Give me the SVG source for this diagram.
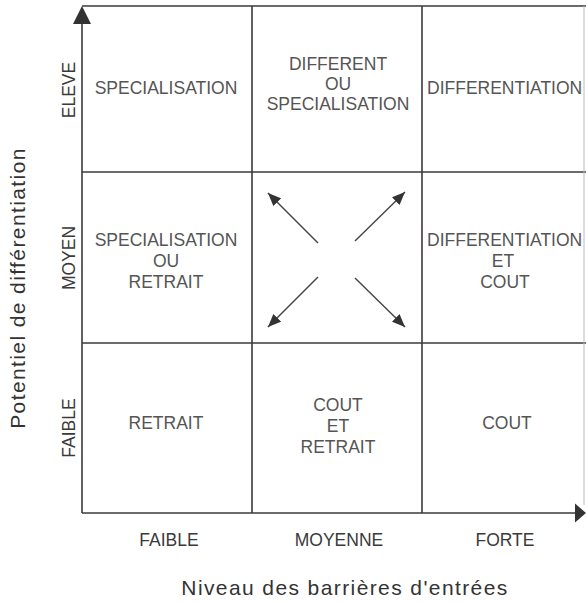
<svg xmlns="http://www.w3.org/2000/svg" width="586" height="603" viewBox="0 0 586 603">
<defs>
<style>
.grid{stroke:#3a3a3a;stroke-width:1.6;fill:none}
.conn{stroke:#444;stroke-width:1.4;fill:none}
.cell{font-family:"Liberation Sans",Arial,sans-serif;font-size:17.5px;fill:#555;text-anchor:middle}
.lab{font-family:"Liberation Sans",Arial,sans-serif;font-size:17.5px;fill:#3a3a3a;text-anchor:middle}
.title{font-family:"Liberation Sans",Arial,sans-serif;font-size:21px;fill:#333;text-anchor:middle;letter-spacing:1.4px}
</style>
<marker id="ah" viewBox="0 0 12 10" refX="12" refY="5" markerWidth="13" markerHeight="11" markerUnits="userSpaceOnUse" orient="auto">
<path d="M0,0 L12,5 L0,10 Z" fill="#333"/>
</marker>
</defs>
<rect width="586" height="603" fill="#fff"/>
<g id="grid">
<line class="grid" x1="82" y1="513" x2="82" y2="20"/>
<polygon points="82,6 73,24 91,24" fill="#333"/>
<line class="grid" x1="82" y1="6" x2="586" y2="6"/>
<line class="grid" x1="82" y1="172" x2="586" y2="172"/>
<line class="grid" x1="82" y1="343" x2="586" y2="343"/>
<line class="grid" x1="82" y1="513" x2="576" y2="513"/>
<polygon points="586,513 575,503.5 575,522.5" fill="#333"/>
<line class="grid" x1="252" y1="6" x2="252" y2="513"/>
<line class="grid" x1="422" y1="6" x2="422" y2="513"/>
<line x1="584" y1="6" x2="584" y2="505" stroke="#bbb" stroke-width="1"/>
</g>
<g id="axis-y">
<text class="title" transform="translate(25,288) rotate(-90)">Potentiel de différentiation</text>
<text class="lab" transform="translate(75,90) rotate(-90)">ELEVE</text>
<text class="lab" transform="translate(75,258) rotate(-90)">MOYEN</text>
<text class="lab" transform="translate(75,428) rotate(-90)">FAIBLE</text>
</g>
<g id="axis-x">
<text class="lab" x="169" y="546">FAIBLE</text>
<text class="lab" x="339" y="546">MOYENNE</text>
<text class="lab" x="505" y="546">FORTE</text>
<text class="title" x="345" y="595">Niveau des barrières d'entrées</text>
</g>
<g id="cell-eleve-faible"><text class="cell" x="166" y="94">SPECIALISATION</text></g>
<g id="cell-eleve-moyenne">
<text class="cell" x="338" y="70">DIFFERENT</text>
<text class="cell" x="338" y="90">OU</text>
<text class="cell" x="338" y="110">SPECIALISATION</text>
</g>
<g id="cell-eleve-forte"><text class="cell" x="427" y="94" style="text-anchor:start">DIFFERENTIATION</text></g>
<g id="cell-moyen-faible">
<text class="cell" x="166" y="246">SPECIALISATION</text>
<text class="cell" x="166" y="267">OU</text>
<text class="cell" x="166" y="288">RETRAIT</text>
</g>
<g id="cell-moyen-moyenne"></g>
<g id="cell-moyen-forte">
<text class="cell" x="427" y="246" style="text-anchor:start">DIFFERENTIATION</text>
<text class="cell" x="503" y="267">ET</text>
<text class="cell" x="505" y="288">COUT</text>
</g>
<g id="cell-faible-faible"><text class="cell" x="166" y="429">RETRAIT</text></g>
<g id="cell-faible-moyenne">
<text class="cell" x="338" y="411">COUT</text>
<text class="cell" x="338" y="432">ET</text>
<text class="cell" x="338" y="453">RETRAIT</text>
</g>
<g id="cell-faible-forte"><text class="cell" x="507" y="429">COUT</text></g>
<g id="connectors">
<line class="conn" x1="318" y1="243" x2="268" y2="193" marker-end="url(#ah)"/>
<line class="conn" x1="355" y1="241" x2="405" y2="192" marker-end="url(#ah)"/>
<line class="conn" x1="318" y1="277" x2="268" y2="327" marker-end="url(#ah)"/>
<line class="conn" x1="355" y1="278" x2="405" y2="327" marker-end="url(#ah)"/>
</g>
</svg>
